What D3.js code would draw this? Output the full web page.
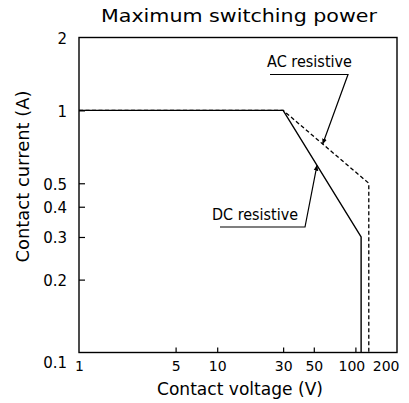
<!DOCTYPE html>
<html>
<head>
<meta charset="utf-8">
<script src="https://cdn.jsdelivr.net/npm/d3@7"></script>
<style>
  html, body { margin: 0; padding: 0; background: #fff; }
  svg { display: block; }
  text { font-family: "DejaVu Sans", sans-serif; fill: #000; }
</style>
</head>
<body>
<svg id="chart" width="409" height="403"></svg>
<script>
// ---- data ----
const title = "Maximum switching power";
const xLabel = "Contact voltage (V)";
const yLabel = "Contact current (A)";
const xTicks = [1, 5, 10, 30, 50, 100, 200];
const yTicks = [0.1, 0.2, 0.3, 0.4, 0.5, 1, 2];
const xDomain = [1, 200];
const yDomain = [0.1, 2];

const dcVoltage = [1, 30, 110, 110];
const dcCurrent = [1, 1, 0.3, 0.1];
const acVoltage = [1, 30, 125, 125];
const acCurrent = [1, 1, 0.5, 0.1];

const acName = "AC resistive";
const dcName = "DC resistive";
const acPointerVoltage = 58;   // where the AC leader touches the AC curve
const dcPointerVoltage = 52.7; // where the DC leader touches the DC curve

// ---- layout ----
const L = 79, R = 397, T = 37.5, B = 352.5;
const svg = d3.select("#chart");

const x = d3.scaleLog().domain(xDomain).range([L, R]);
const y = d3.scaleLog().domain(yDomain).range([B, T]);

// interpolate current on a polyline in log-log space
function currentAt(vs, cs, v) {
  for (let i = 0; i < vs.length - 1; i++) {
    if (v >= vs[i] && v <= vs[i + 1] && vs[i + 1] !== vs[i]) {
      const t = (Math.log(v) - Math.log(vs[i])) / (Math.log(vs[i + 1]) - Math.log(vs[i]));
      return Math.exp(Math.log(cs[i]) + t * (Math.log(cs[i + 1]) - Math.log(cs[i])));
    }
  }
  return cs[cs.length - 1];
}

// title
svg.append("text")
  .attr("x", 239).attr("y", 22)
  .attr("text-anchor", "middle")
  .attr("font-size", 17)
  .attr("textLength", 276).attr("lengthAdjust", "spacingAndGlyphs")
  .text(title);

// axes
const yAxis = d3.axisLeft(y).tickValues(yTicks)
  .tickFormat(d => String(d)).tickSize(-6).tickPadding(12);
const gy = svg.append("g").attr("transform", `translate(${L},0)`).call(yAxis);
gy.attr("font-family", null);
gy.select(".domain").remove();
gy.selectAll(".tick line").attr("stroke", "#000").attr("stroke-width", 1.2);
gy.selectAll(".tick text")
  .attr("font-size", 15)
  .attr("dy", d => d === yDomain[0] ? "1.0em" : "0.4em");
gy.selectAll(".tick").filter(d => d === yDomain[0] || d === yDomain[1]).select("line").remove();

const xAxis = d3.axisBottom(x).tickValues(xTicks)
  .tickFormat(d => String(d)).tickSize(-5).tickPadding(9);
const gx = svg.append("g").attr("transform", `translate(0,${B})`).call(xAxis);
gx.attr("font-family", null);
gx.select(".domain").remove();
gx.selectAll(".tick line").attr("stroke", "#000").attr("stroke-width", 1.2);
gx.selectAll(".tick").filter(d => d === xDomain[0] || d === xDomain[1]).select("line").remove();
gx.selectAll(".tick text").attr("font-size", 14)
  .attr("text-anchor", d => d === xDomain[1] ? "end" : "middle")
  .attr("dx", d => d === xDomain[1] ? 2 : (d === 100 ? -4 : 0));

// frame
svg.append("rect")
  .attr("x", L).attr("y", T).attr("width", R - L).attr("height", B - T)
  .attr("fill", "none").attr("stroke", "#000").attr("stroke-width", 1.4);

// axis labels
svg.append("text")
  .attr("x", 240).attr("y", 395)
  .attr("text-anchor", "middle").attr("font-size", 18)
  .attr("textLength", 166).attr("lengthAdjust", "spacingAndGlyphs")
  .text(xLabel);

svg.append("text")
  .attr("transform", "translate(28.5,176.5) rotate(-90)")
  .attr("text-anchor", "middle").attr("font-size", 18)
  .attr("textLength", 172).attr("lengthAdjust", "spacingAndGlyphs")
  .text(yLabel);

// curves
const line = d3.line().x(d => x(d[0])).y(d => y(d[1]));
const dcData = dcVoltage.map((v, i) => [v, dcCurrent[i]]);
const acData = acVoltage.map((v, i) => [v, acCurrent[i]]);

svg.append("path").datum(acData).attr("d", line)
  .attr("fill", "none").attr("stroke", "#000").attr("stroke-width", 1.3)
  .attr("stroke-dasharray", "4,2.5");
svg.append("path").datum(dcData).attr("d", line)
  .attr("fill", "none").attr("stroke", "#000").attr("stroke-width", 1.4);

// annotations
const defs = svg.append("defs");
defs.append("marker").attr("id", "tip")
  .attr("viewBox", "0 0 10 10").attr("refX", 9).attr("refY", 5)
  .attr("markerWidth", 5).attr("markerHeight", 5).attr("orient", "auto")
  .append("path").attr("d", "M0,1 L10,5 L0,9 Z").attr("fill", "#000");

function annotate(name, tx, tyBase, tLen, ulX0, ulX1, ulY, tipX, tipY) {
  svg.append("text").attr("x", tx).attr("y", tyBase)
    .attr("font-size", 15.5)
    .attr("textLength", tLen).attr("lengthAdjust", "spacingAndGlyphs")
    .text(name);
  svg.append("path")
    .attr("d", `M${ulX0},${ulY} L${ulX1},${ulY} L${tipX},${tipY}`)
    .attr("fill", "none").attr("stroke", "#000").attr("stroke-width", 1.2)
    .attr("marker-end", "url(#tip)");
}

annotate(acName, 267, 67, 85, 270, 348, 74.5,
  x(acPointerVoltage), y(currentAt(acVoltage, acCurrent, acPointerVoltage)));
annotate(dcName, 212, 220, 86, 220, 305, 227,
  x(dcPointerVoltage), y(currentAt(dcVoltage, dcCurrent, dcPointerVoltage)));
</script>
</body>
</html>
